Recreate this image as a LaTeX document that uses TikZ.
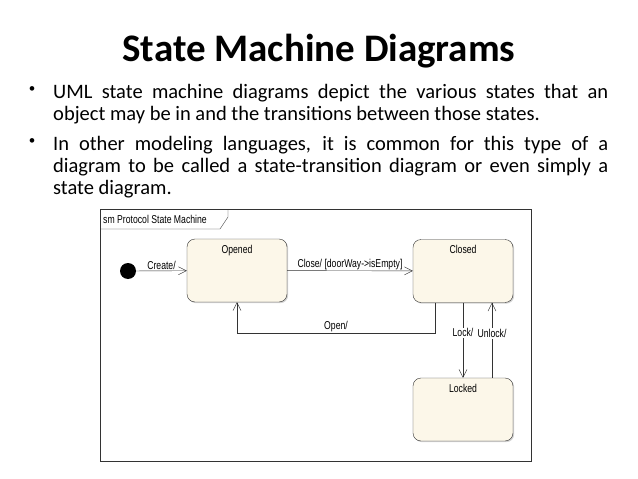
\documentclass[tikz,border=0pt]{standalone}
\usepackage{fontspec}
\setmainfont{Carlito}
\newfontfamily\umlfont[FakeStretch=0.76]{Liberation Sans}
\usetikzlibrary{positioning}
\usetikzlibrary{calc, arrows.meta, shadows}
\definecolor{statefill}{RGB}{252,247,233}

\begin{document}
\begin{tikzpicture}[x=1pt,y=-1pt,
    state/.style={draw=black!80,rounded corners=8pt,fill=statefill,
      minimum width=100pt,minimum height=63pt,inner sep=0pt,
      drop shadow={shadow xshift=1.2pt,shadow yshift=-1.2pt,opacity=0.35}},
    trans/.style={draw=black!80,-{Straight Barb[length=8pt,width=8pt]}},
    lbl/.style={font=\umlfont\fontsize{11.4}{13}\selectfont,inner sep=1pt},
    bulletdot/.style={font=\fontsize{13}{14}\selectfont,inner sep=0pt},
    bullettext/.style={anchor=north west,inner sep=0pt,text width=555pt,align=justify,
      font=\fontsize{20.5}{22.2}\selectfont}]
  \useasboundingbox (0,0) rectangle (638,479);
  \node (title) at (319,61) [anchor=base,font=\bfseries\fontsize{39}{42}\selectfont] {State Machine Diagrams};

  \node (b1) at (32,90) [bulletdot] {•};
  \node (t1) at (53,84) [bullettext] {UML state machine diagrams depict the various states that an\linebreak object may be in and the transitions between those states.};
  \node (b2) at (32,142) [bulletdot] {•};
  \node (t2) at (53,136) [bullettext] {In other modeling languages, it is common for this type of a\linebreak diagram to be called a state-transition diagram or even simply a\linebreak state diagram.};

  % frame of the diagram
  \draw[black!80] (100,209) rectangle (531,461);
  \draw[black!80] (100,229) -- (220,229) -- (228,217) -- (228,209);
  \node (frame) at (102,219) [lbl,anchor=west] {sm Protocol State Machine};

  \node (init) at (128,271) [circle,fill=black,minimum size=16pt,inner sep=0pt] {};
  \node (opened) at (237,270.5) [state,label={[lbl,anchor=north,yshift=-5pt]north:Opened}] {};
  \node (closed) at (463,271) [state,label={[lbl,anchor=north,yshift=-5pt]north:Closed}] {};
  \node (locked) at (463,409.5) [state,label={[lbl,anchor=north,yshift=-5pt]north:Locked}] {};

  \draw[trans] (init) -- node[lbl,above] {Create/} (opened);
  \draw[trans] (opened) -- node[lbl,above] {Close/ [doorWay->isEmpty]} (closed);
  \draw[trans] ([xshift=-28pt]closed.south) -- ++(0,30) -| node[lbl,above,pos=0.25] {Open/} (opened.south);
  \draw[trans] (closed) -- node[lbl,fill=white,pos=0.4] {Lock/} (locked);
  \draw[trans] ([xshift=29pt]locked.north) -- node[lbl,fill=white,pos=0.59] {Unlock/} ([xshift=29pt]closed.south);
\end{tikzpicture}
\end{document}
